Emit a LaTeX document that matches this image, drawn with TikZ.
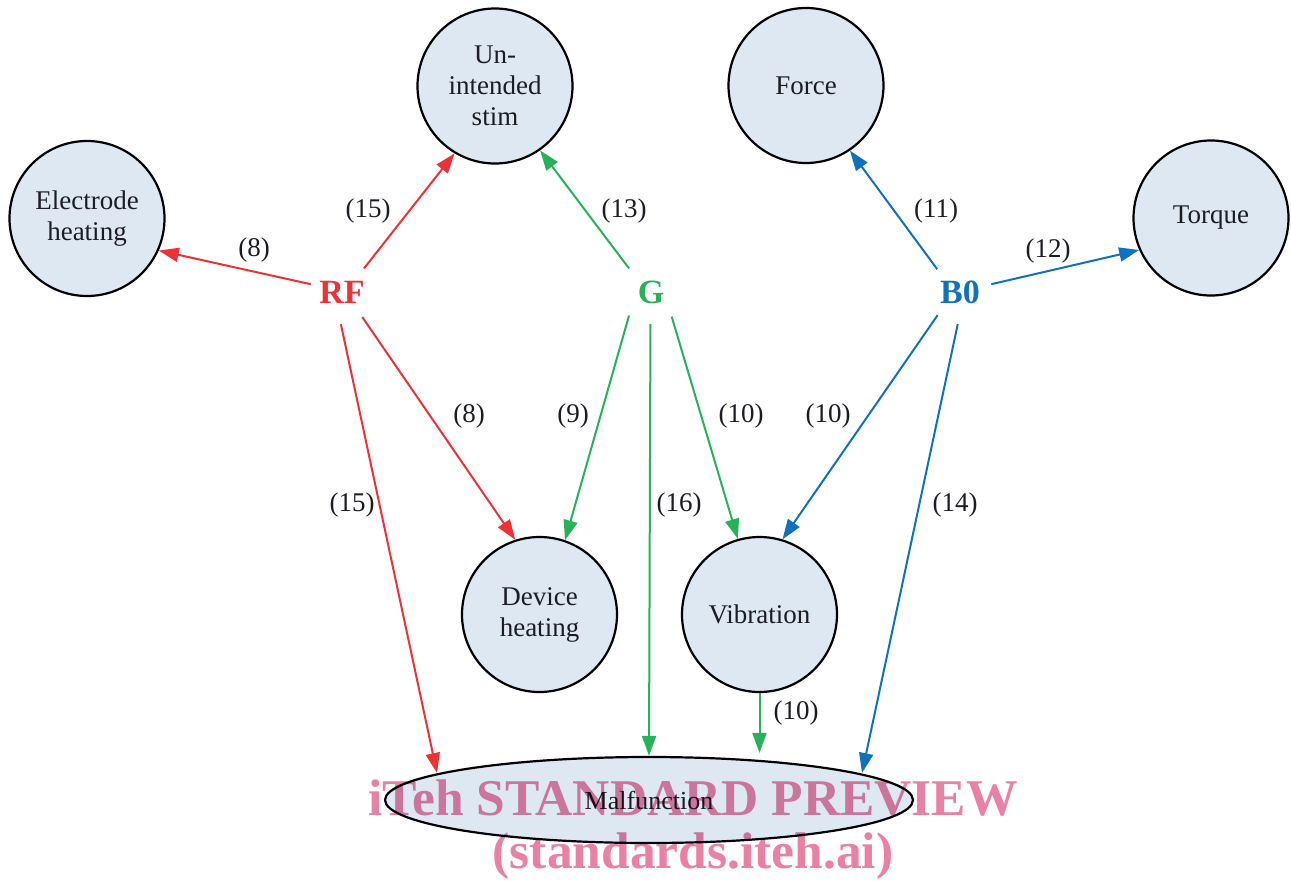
\documentclass[tikz,border=0pt]{standalone}
\usepackage{fontspec}
\setmainfont{Liberation Serif}
\usetikzlibrary{arrows.meta,shapes.geometric,calc}
\definecolor{rfred}{RGB}{238,49,53}
\definecolor{ggreen}{RGB}{39,178,89}
\definecolor{bblue}{RGB}{16,114,188}
\definecolor{nodefill}{RGB}{222,232,243}
\definecolor{wmpink}{RGB}{234,128,164}
\definecolor{inkdark}{RGB}{28,28,36}
\begin{document}
\begin{tikzpicture}[x=1pt,y=-1pt,
  effect/.style={circle,draw=black,line width=2.2pt,fill=nodefill,minimum size=155pt,
    inner sep=0pt,align=center,text=inkdark,font=\fontsize{27}{31}\selectfont},
  src/.style={circle,minimum size=64pt,inner sep=0pt,font=\bfseries\fontsize{34}{34}\selectfont},
  lab/.style={font=\fontsize{27}{27}\selectfont,text=inkdark},
  arr/.style={line width=2pt,-{Triangle[length=20pt,width=14pt]}},
  wm/.style={font=\bfseries\fontsize{51.5}{51.5}\selectfont,text=wmpink,anchor=base}
]
\useasboundingbox (0,0) rectangle (1291,881);

% effect nodes
\node[effect] (elec) at (87,218.5) {Electrode\\heating};
\node[effect] (unint) at (495,86) {Un-\\intended\\stim};
\node[effect] (force) at (806,85.5) {Force};
\node[effect] (torque) at (1211,218) {Torque};
\node[effect] (dev) at (539.5,614.5) {Device\\heating};
\node[effect] (vib) at (759.5,614.5) {Vibration};
\node[ellipse,draw=black,line width=2.2pt,fill=nodefill,minimum width=528pt,minimum height=86pt,
  inner sep=0pt,text=inkdark,font=\fontsize{26}{26}\selectfont] (mal) at (649,800) {Malfunction};

% sources
\node[src,text=rfred] (rf) at (342,292) {RF};
\node[src,text=ggreen] (g) at (651,292) {G};
\node[src,text=bblue] (b0) at (960,292) {B0};

% RF edges
\draw[arr,rfred] (rf.166.8) -- (elec.-24.1);
\draw[arr,rfred] (rf.47.7) -- (unint.-121.6);
\draw[arr,rfred] (rf.-51.3) -- (dev.108.2);
\draw[arr,rfred] (rf.-92) -- ($(mal.center)+(-212,-27)$);

% G edges
\draw[arr,ggreen] (g.133.8) -- (unint.-55.7);
\draw[arr,ggreen] (g.-133.8) -- (dev.71.8);
\draw[arr,ggreen] (g.-91) -- (mal.90);
\draw[arr,ggreen] (g.-50) -- (vib.106.6);
\draw[arr,ggreen,shorten >=3pt] (vib.south) -- (vib.south |- mal.north);

% B0 edges
\draw[arr,bblue] (b0.135) -- (force.-56.9);
\draw[arr,bblue] (b0.14.5) -- (torque.204);
\draw[arr,bblue] (b0.-134) -- (vib.73.4);
\draw[arr,bblue] (b0.-94.6) -- ($(mal.center)+(213,-27)$);

% labels
\node[lab] (l1) at (254,250) {(8)};
\node[lab] (l2) at (368,211) {(15)};
\node[lab] (l3) at (624,211) {(13)};
\node[lab] (l4) at (936,211) {(11)};
\node[lab] (l5) at (1048,251) {(12)};
\node[lab] (l6) at (469,416) {(8)};
\node[lab] (l7) at (573,416) {(9)};
\node[lab] (l8) at (741,416) {(10)};
\node[lab] (l9) at (828,416) {(10)};
\node[lab] (l10) at (352,505) {(15)};
\node[lab] (l11) at (679,505) {(16)};
\node[lab] (l12) at (955,505) {(14)};
\node[lab] (l13) at (796,713) {(10)};

% watermark
\begin{scope}[blend mode=multiply]
\node[wm] (wm1) at (693,815) {iTeh STANDARD PREVIEW};
\node[wm] (wm2) at (693,868) {(standards.iteh.ai)};
\end{scope}
\end{tikzpicture}
\end{document}
